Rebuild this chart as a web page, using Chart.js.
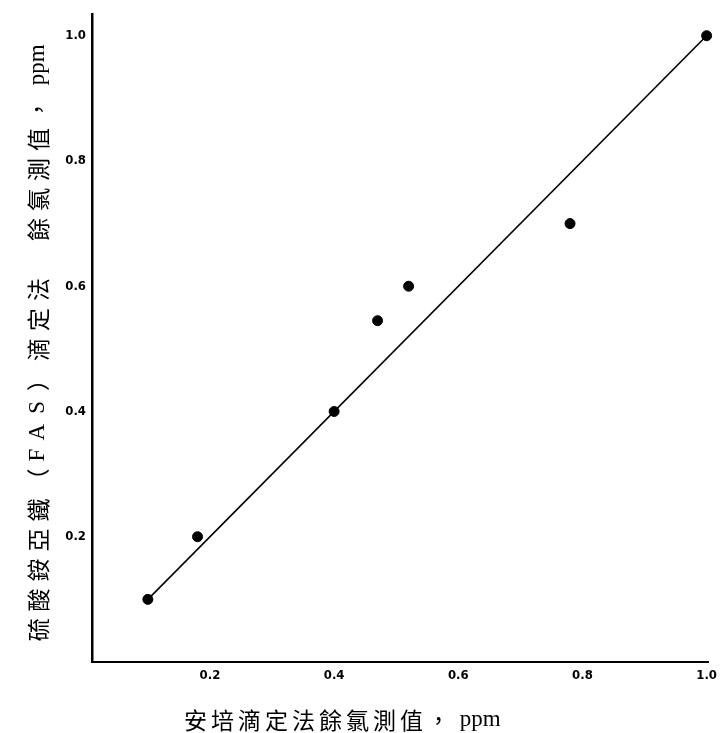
<!DOCTYPE html>
<html>
<head>
<meta charset="utf-8">
<script src="https://cdn.jsdelivr.net/npm/chart.js@4/dist/chart.umd.min.js"></script>
<style>
html,body{margin:0;padding:0;background:#fff;}
#wrap{width:723px;height:733px;position:relative;}
</style>
</head>
<body>
<div id="wrap"><canvas id="c" width="723" height="733"></canvas></div>
<script>
// Data
const ampValues = [0.10, 0.18, 0.40, 0.47, 0.52, 0.78, 1.00];   // x: 安培滴定法
const fasValues = [0.10, 0.20, 0.40, 0.545, 0.60, 0.70, 1.00];  // y: FAS 滴定法
const fitLineX = [0.10, 1.00];
const fitLineY = [0.10, 1.00];
const xTicks = [0.2, 0.4, 0.6, 0.8, 1.0];
const yTicks = [0.2, 0.4, 0.6, 0.8, 1.0];
const xTitleParts = ["安培滴定法餘氯測值，", " ppm"];
const yTitleParts = ["硫酸銨亞鐵（", "FAS", "）滴定法　餘氯測值，", " ppm"];

const scatterPts = ampValues.map((v, i) => ({x: v, y: fasValues[i]}));
const linePts = fitLineX.map((v, i) => ({x: v, y: fitLineY[i]}));

const tickFont = {family: '"Liberation Sans Narrow", "DejaVu Sans Condensed", "Liberation Sans"', size: 13, weight: 'bold'};
const cjkFont = '23px "Noto Sans CJK TC"';
const latinFont = '23px "Liberation Serif"';

function setSpacing(ctx, px) { try { ctx.letterSpacing = px + 'px'; } catch (e) {} }
function styleFor(p) { return /^[\sA-Za-z]+$/.test(p) ? {font: latinFont, sp: p.trim() === 'FAS' ? 10 : 0} : {font: cjkFont, sp: null}; }
function partsWidth(ctx, parts, sp) {
  let w = 0;
  parts.forEach(p => { const s = styleFor(p); ctx.font = s.font; setSpacing(ctx, s.sp === null ? sp : s.sp); w += ctx.measureText(p).width; });
  return w;
}
function drawParts(ctx, parts, x, y, sp) {
  parts.forEach(p => {
    const s = styleFor(p); ctx.font = s.font; setSpacing(ctx, s.sp === null ? sp : s.sp);
    ctx.fillText(p, x, y);
    x += ctx.measureText(p).width;
  });
}

const titlePlugin = {
  id: 'axisTitles',
  afterDraw(chart) {
    const ctx = chart.ctx;
    const a = chart.chartArea;
    ctx.save();
    ctx.fillStyle = '#000';
    ctx.textBaseline = 'middle';
    ctx.textAlign = 'left';
    // x title
    drawParts(ctx, xTitleParts, a.left + 92, a.bottom + 58, 4);
    // y title (rotated)
    const sp = 7;
    const w = partsWidth(ctx, yTitleParts, sp);
    ctx.translate(a.left - 54, (a.top + a.bottom) / 2 + 5);
    ctx.rotate(-Math.PI / 2);
    drawParts(ctx, yTitleParts, -w / 2, 0, sp);
    ctx.restore();
  }
};

new Chart(document.getElementById('c'), {
  type: 'scatter',
  data: {
    datasets: [
      {
        type: 'line',
        data: linePts,
        borderColor: '#000',
        borderWidth: 1.6,
        pointRadius: 0,
        fill: false,
        clip: false
      },
      {
        type: 'scatter',
        data: scatterPts,
        backgroundColor: '#000',
        borderColor: '#000',
        pointRadius: 5,
        clip: false
      }
    ]
  },
  options: {
    responsive: false,
    animation: false,
    devicePixelRatio: 1,
    layout: {padding: {left: 0, right: 10, top: 8, bottom: 0}},
    plugins: {legend: {display: false}, tooltip: {enabled: false}},
    scales: {
      x: {
        type: 'linear',
        min: 0.01,
        max: 1.003,
        afterBuildTicks(s) { s.ticks = xTicks.map(v => ({value: v})); },
        afterFit(s) { s.height = 71; },
        grid: {display: false, drawTicks: false},
        border: {display: true, color: '#000', width: 2},
        ticks: {
          color: '#000',
          font: tickFont,
          padding: 6,
          maxRotation: 0,
          callback: v => Number(v).toFixed(1)
        }
      },
      y: {
        type: 'linear',
        min: 0,
        max: 1.035,
        afterBuildTicks(s) { s.ticks = yTicks.map(v => ({value: v})); },
        afterFit(s) { s.width = 92; },
        grid: {display: false, drawTicks: false},
        border: {display: true, color: '#000', width: 2.5},
        ticks: {
          color: '#000',
          font: tickFont,
          padding: 6,
          callback: v => Number(v).toFixed(1)
        }
      }
    }
  },
  plugins: [titlePlugin]
});
</script>
</body>
</html>
